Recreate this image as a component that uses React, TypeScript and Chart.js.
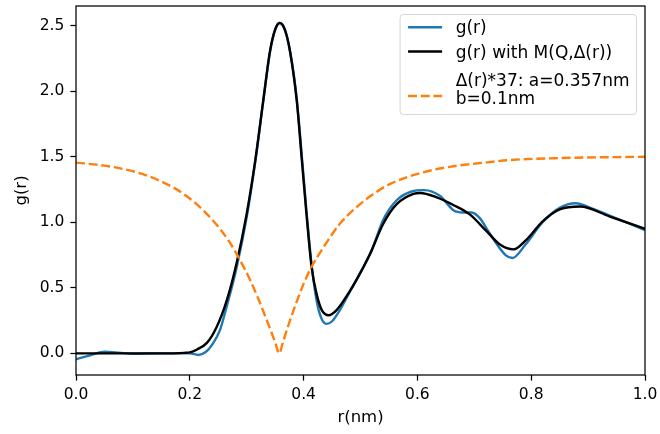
import { useEffect, useRef } from "react";
import { Chart, registerables } from "chart.js";

Chart.register(...registerables);

// ---- data ----
const rBlue = [0, 0.025, 0.05, 0.075, 0.1, 0.15, 0.2, 0.215, 0.228, 0.24, 0.253, 0.265, 0.282, 0.3, 0.315, 0.329, 0.341, 0.35, 0.358, 0.367, 0.376, 0.388, 0.397, 0.405, 0.414, 0.423, 0.432, 0.441, 0.45, 0.465, 0.48, 0.499, 0.52, 0.54, 0.564, 0.59, 0.612, 0.64, 0.664, 0.68, 0.695, 0.71, 0.722, 0.74, 0.755, 0.767, 0.79, 0.82, 0.85, 0.878, 0.91, 0.95, 1.0];
const gBlue = [-0.045, -0.015, 0.012, 0.006, -0.003, 0.0, 0.0, -0.012, 0.01, 0.07, 0.177, 0.36, 0.65, 1.04, 1.46, 1.92, 2.3, 2.47, 2.52, 2.47, 2.31, 1.94, 1.5, 1.09, 0.68, 0.4, 0.26, 0.225, 0.245, 0.34, 0.46, 0.61, 0.79, 1.02, 1.17, 1.235, 1.245, 1.2, 1.09, 1.075, 1.075, 1.03, 0.95, 0.83, 0.75, 0.727, 0.83, 1.0, 1.11, 1.145, 1.1, 1.03, 0.94];

const rBlack = [0, 0.05, 0.1, 0.15, 0.19, 0.2, 0.212, 0.23, 0.247, 0.265, 0.282, 0.3, 0.315, 0.329, 0.341, 0.35, 0.358, 0.367, 0.376, 0.388, 0.397, 0.405, 0.414, 0.423, 0.432, 0.444, 0.458, 0.482, 0.499, 0.517, 0.54, 0.564, 0.593, 0.605, 0.634, 0.664, 0.692, 0.722, 0.745, 0.769, 0.79, 0.821, 0.851, 0.886, 0.938, 1.0];
const gBlack = [0.0, 0.0, 0.0, 0.0, 0.004, 0.008, 0.028, 0.08, 0.2, 0.405, 0.684, 1.065, 1.47, 1.926, 2.307, 2.47, 2.52, 2.47, 2.307, 1.926, 1.47, 1.065, 0.66, 0.45, 0.33, 0.291, 0.33, 0.48, 0.608, 0.76, 0.989, 1.14, 1.217, 1.224, 1.19, 1.13, 1.06, 0.93, 0.83, 0.793, 0.86, 1.01, 1.1, 1.12, 1.044, 0.95];

const rDelta = [0, 0.05, 0.107, 0.153, 0.189, 0.224, 0.253, 0.27, 0.285, 0.306, 0.32, 0.34, 0.35, 0.357, 0.364, 0.376, 0.4, 0.414, 0.435, 0.464, 0.493, 0.523, 0.552, 0.61, 0.67, 0.707, 0.763, 0.85, 1.0];
const dDelta = [1.455, 1.432, 1.381, 1.305, 1.217, 1.09, 0.95, 0.848, 0.738, 0.56, 0.42, 0.2, 0.085, 0.0, 0.09, 0.25, 0.53, 0.66, 0.81, 0.99, 1.115, 1.217, 1.293, 1.381, 1.432, 1.45, 1.475, 1.49, 1.5];

const xTicks = [0, 0.2, 0.4, 0.6, 0.8, 1.0];
const yTicks = [0, 0.5, 1.0, 1.5, 2.0, 2.5];

const labels = ["g(r)", "g(r) with M(Q,Δ(r))", "Δ(r)*37: a=0.357nm\nb=0.1nm"];
const colors = ["#1f77b4", "#000000", "#ff7f0e"];

const FONT = "'DejaVu Sans', sans-serif";
const FS = 15.5;
const FS_TITLE = 16.5;
const FS_LEGEND = 17;

const toPts = (xs: number[], ys: number[]) => xs.map((x, i) => ({ x, y: ys[i] }));

const legendPlugin = {
  id: "mplLegend",
  afterDatasetsDraw(chart: any) {
    const { ctx, chartArea } = chart;
    ctx.save();
    ctx.font = `${FS_LEGEND}px ${FONT}`;
    const items = chart.data.datasets.map((ds: any) => ({
      lines: String(ds.label).split("\n"),
      color: ds.borderColor,
      dash: ds.borderDash || [],
      width: ds.borderWidth,
    }));
    let maxW = 0;
    items.forEach((it: any) => it.lines.forEach((l: string) => { maxW = Math.max(maxW, ctx.measureText(l).width); }));
    const right = chartArea.right - 8.5;
    const top = chartArea.top + 8.5;
    const handleLen = 34;
    const left = right - (8 + handleLen + 13.6 + maxW + 7);
    const bottom = top + 100;
    const rad = 3.4;
    ctx.beginPath();
    ctx.moveTo(left + rad, top);
    ctx.lineTo(right - rad, top);
    ctx.quadraticCurveTo(right, top, right, top + rad);
    ctx.lineTo(right, bottom - rad);
    ctx.quadraticCurveTo(right, bottom, right - rad, bottom);
    ctx.lineTo(left + rad, bottom);
    ctx.quadraticCurveTo(left, bottom, left, bottom - rad);
    ctx.lineTo(left, top + rad);
    ctx.quadraticCurveTo(left, top, left + rad, top);
    ctx.closePath();
    ctx.fillStyle = "rgba(255,255,255,0.8)";
    ctx.fill();
    ctx.strokeStyle = "rgba(204,204,204,0.8)";
    ctx.lineWidth = 1;
    ctx.stroke();
    const handleY = [12.8, 37, 81.5];
    const baselines = [[18.5], [43], [71, 89]];
    const hx = left + 8;
    const tx = hx + handleLen + 13.6;
    items.forEach((it: any, i: number) => {
      ctx.beginPath();
      ctx.setLineDash(it.dash);
      ctx.strokeStyle = it.color;
      ctx.lineWidth = it.width;
      ctx.moveTo(hx, top + handleY[i]);
      ctx.lineTo(hx + handleLen, top + handleY[i]);
      ctx.stroke();
      ctx.setLineDash([]);
      ctx.fillStyle = "#000";
      ctx.textBaseline = "alphabetic";
      ctx.textAlign = "left";
      it.lines.forEach((l: string, j: number) => {
        ctx.fillText(l, tx, top + baselines[i][j]);
      });
    });
    ctx.restore();
  },
  afterDraw(chart: any) {
    const { ctx, chartArea } = chart;
    ctx.save();
    ctx.strokeStyle = "#000";
    ctx.lineWidth = 1.25;
    ctx.strokeRect(chartArea.left, chartArea.top, chartArea.right - chartArea.left, chartArea.bottom - chartArea.top);
    ctx.restore();
  },
};

export default function App() {
  const ref = useRef<HTMLCanvasElement | null>(null);
  useEffect(() => {
    if (!ref.current) return;
    const mk = (i: number, xs: number[], ys: number[], order: number, dash?: number[]) => ({
      label: labels[i],
      data: toPts(xs, ys),
      borderColor: colors[i],
      backgroundColor: colors[i],
      borderWidth: 2.4,
      borderDash: dash,
      pointRadius: 0,
      fill: false,
      order,
      cubicInterpolationMode: "monotone" as const,
      tension: 0.4,
    });
    const chart = new Chart(ref.current, {
      type: "line",
      data: {
        datasets: [
          mk(0, rBlue, gBlue, 3),
          mk(1, rBlack, gBlack, 2),
          mk(2, rDelta, dDelta, 1, [8.9, 3.8]),
        ],
      },
      options: {
        animation: false,
        responsive: false,
        devicePixelRatio: 1,
        layout: { padding: { left: 0, right: 15, top: 6, bottom: 0 } },
        plugins: { legend: { display: false }, tooltip: { enabled: false } },
        scales: {
          x: {
            type: "linear",
            min: 0,
            max: 1,
            border: { display: false },
            grid: { drawOnChartArea: false, drawTicks: true, tickLength: 5.6, tickColor: "#000", tickWidth: 1.25, color: "#000" },
            ticks: {
              autoSkip: false,
              padding: 5,
              color: "#000",
              font: { family: FONT, size: FS },
              callback: (v: any) => Number(v).toFixed(1),
            },
            afterBuildTicks: (scale: any) => { scale.ticks = xTicks.map((v) => ({ value: v })); },
            afterFit: (scale: any) => {
              scale.height = 59;
              scale.paddingLeft = 0; scale.paddingRight = 0; scale.paddingTop = 0; scale.paddingBottom = 0;
            },
            title: { display: true, text: "r(nm)", color: "#000", font: { family: FONT, size: FS_TITLE }, padding: { top: 0, bottom: 6 } },
          },
          y: {
            type: "linear",
            min: -0.165,
            max: 2.65,
            border: { display: false },
            grid: { drawOnChartArea: false, drawTicks: true, tickLength: 5.6, tickColor: "#000", tickWidth: 1.25, color: "#000" },
            ticks: {
              autoSkip: false,
              padding: 6,
              color: "#000",
              font: { family: FONT, size: FS },
              callback: (v: any) => Number(v).toFixed(1),
            },
            afterBuildTicks: (scale: any) => { scale.ticks = yTicks.map((v) => ({ value: v })); },
            afterFit: (scale: any) => {
              scale.width = 76;
              scale.paddingLeft = 0; scale.paddingRight = 0; scale.paddingTop = 0; scale.paddingBottom = 0;
            },
            title: { display: true, text: "g(r)", color: "#000", font: { family: FONT, size: FS_TITLE }, padding: { top: 12, bottom: 0 } },
          },
        },
      },
      plugins: [legendPlugin],
    });
    return () => chart.destroy();
  }, []);
  return (
    <div style={{ position: "absolute", left: 0, top: 0, width: 660, height: 434, background: "#fff" }}>
      <canvas ref={ref} width={660} height={434} style={{ display: "block" }} />
    </div>
  );
}
